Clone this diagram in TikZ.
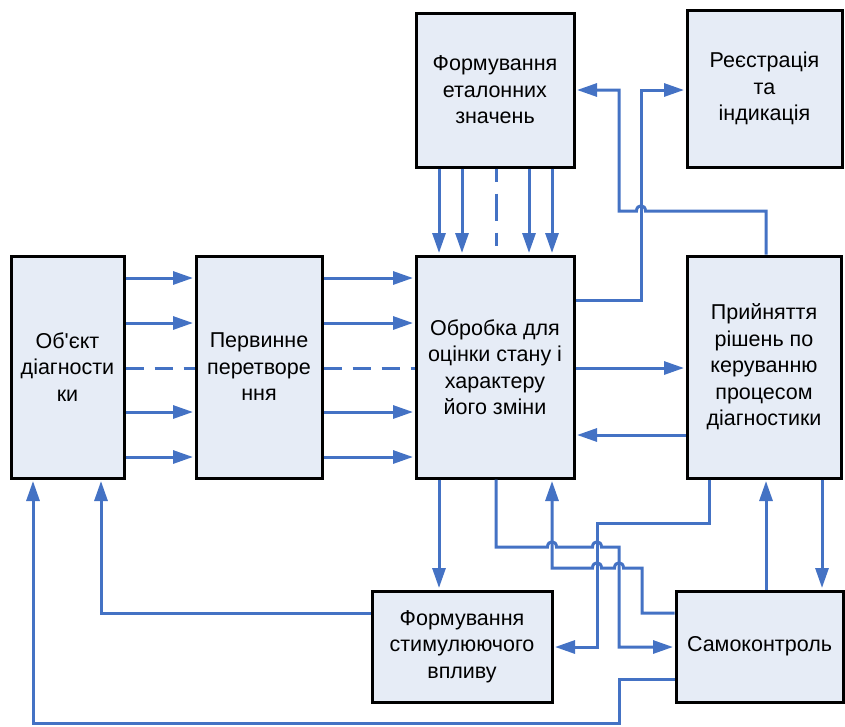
\documentclass[tikz,border=0pt]{standalone}
\usepackage{fontspec}
\setmainfont{Liberation Sans}
\usetikzlibrary{arrows.meta}
\definecolor{lnblue}{RGB}{68,114,196}
\definecolor{boxfill}{RGB}{230,236,246}
\begin{document}
\begin{tikzpicture}[x=1pt,y=-1pt,
 blk/.style={draw=black,line width=3pt,fill=boxfill,inner sep=0pt,align=center,font=\fontsize{21.5}{26.5}\selectfont},
 ln/.style={draw=lnblue,line width=3pt},
 arr/.style={ln,-{Triangle[length=20pt,width=13pt]},shorten >=1.5pt},
 dshh/.style={ln,dash pattern=on 18pt off 11pt},
 dshv/.style={ln,dash pattern=on 13pt off 12pt on 27pt off 12pt}]
\useasboundingbox (0,0) rectangle (845,726);

% blocks
\node[blk,minimum width=113pt,minimum height=222pt] (obj) at (67.5,367) {Об\textquotesingle єкт\\діагности\\ки};
\node[blk,minimum width=126pt,minimum height=222pt] (perv) at (259,367) {Первинне\\перетворе\\ння};
\node[blk,minimum width=158pt,minimum height=222pt] (obr) at (495,367) {Обробка для\\оцінки стану і\\характеру\\його зміни};
\node[blk,minimum width=154pt,minimum height=222pt] (pri) at (764,367) {Прийняття\\рішень по\\керуванню\\процесом\\діагностики};
\node[blk,minimum width=158pt,minimum height=154pt] (fet) at (495,90) {Формування\\еталонних\\значень};
\node[blk,minimum width=155pt,minimum height=157pt] (reg) at (764.5,88.5) {Реєстрація\\та\\індикація};
\node[blk,minimum width=180pt,minimum height=111pt] (stim) at (462,646.5) {Формування\\стимулюючого\\впливу};
\node[blk,minimum width=167pt,minimum height=111pt] (samo) at (759.5,646.5) {Самоконтроль};

% obj -> perv -> obr
\foreach \yy in {278,323,412,457} {
  \draw[arr] (obj.east |- 0,\yy) -- (perv.west |- 0,\yy);
  \draw[arr] (perv.east |- 0,\yy) -- (obr.west |- 0,\yy);
}
\draw[dshh] (obj.east |- 0,368) -- (perv.west |- 0,368);
\draw[dshh] (perv.east |- 0,368) -- (obr.west |- 0,368);

% fet -> obr
\foreach \xx in {439,462,529,552} {
  \draw[arr] (fet.south -| \xx,0) -- (obr.north -| \xx,0);
}
\draw[dshv] (fet.south -| 496,0) -- (obr.north -| 496,0);

% obr <-> pri
\draw[arr] (obr.east |- 0,368) -- (pri.west |- 0,368);
\draw[arr] (pri.west |- 0,435) -- (obr.east |- 0,435);

% obr -> reg
\draw[arr] (obr.east |- 0,300) -- (641,300) -- (641,90) -- (reg.west |- 0,90);
% pri -> fet
\draw[arr] (pri.north -| 766,0) -- (766,211) -- (645.5,211)
  .. controls (645.5,204) and (636.5,204) .. (636.5,211) -- (619,211) -- (619,90) -- (fet.east |- 0,90);

% obr -> stim
\draw[arr] (obr.south -| 439,0) -- (stim.north -| 439,0);
% obr -> samo
\draw[arr] (obr.south -| 496,0) -- (496,547) -- (547.5,547)
  .. controls (547.5,540) and (556.5,540) .. (556.5,547) -- (592.5,547)
  .. controls (592.5,540) and (601.5,540) .. (601.5,547) -- (619,547) -- (619,647) -- (samo.west |- 0,647);
% samo -> obr
\draw[arr] (samo.west |- 0,613) -- (642,613) -- (642,568) -- (623.5,568)
  .. controls (623.5,561) and (614.5,561) .. (614.5,568) -- (601.5,568)
  .. controls (601.5,561) and (592.5,561) .. (592.5,568) -- (552,568) -- (obr.south -| 552,0);
% pri -> stim
\draw[arr] (pri.south -| 709,0) -- (709,523) -- (597,523) -- (597,647) -- (stim.east |- 0,647);
% samo <-> pri
\draw[arr] (samo.north -| 766,0) -- (pri.south -| 766,0);
\draw[arr] (pri.south -| 822,0) -- (samo.north -| 822,0);
% samo -> obj
\draw[arr] (samo.west |- 0,679) -- (619,679) -- (619,723) -- (33,723) -- (obj.south -| 33,0);
% stim -> obj
\draw[arr] (stim.west |- 0,613) -- (101,613) -- (obj.south -| 101,0);
\end{tikzpicture}
\end{document}
